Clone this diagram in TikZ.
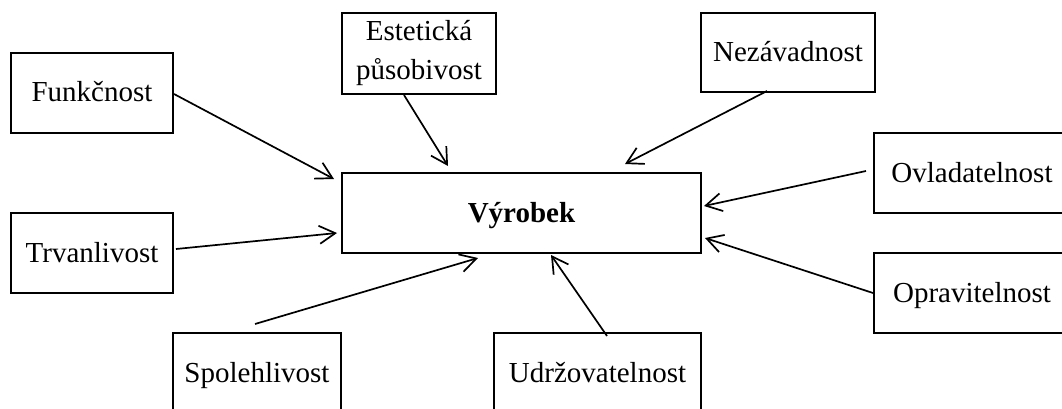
\documentclass[tikz,border=0pt]{standalone}
\usepackage{fontspec}
\setmainfont{Liberation Serif}
\usetikzlibrary{arrows.meta}
\begin{document}
\begin{tikzpicture}[x=1pt,y=-1pt,
  box/.style={draw,line width=2pt,inner sep=0pt,
    font=\fontsize{29}{35}\selectfont},
  single/.style={box,text height=24pt,text depth=6pt},
  link/.style={line width=1.7pt,
    -{Straight Barb[length=16pt,width=18pt,line width=1.7pt]}}]
\useasboundingbox (0,0) rectangle (1062,409);
\clip (0,0) rectangle (1062,409);
% central box
\node[single,minimum width=359pt,minimum height=80pt,font=\fontsize{29}{35}\selectfont\bfseries]
  (vyr) at (521.5,213) {Výrobek};
% surrounding properties
\node[single,minimum width=162pt,minimum height=80pt] (fun) at (92,93) {Funkčnost};
\node[single,minimum width=162pt,minimum height=80pt] (trv) at (92,253) {Trvanlivost};
\node[box,align=center,minimum width=154pt,minimum height=81pt] (est) at (419,53.5)
  {Estetická\\[4pt]působivost};
\node[single,minimum width=174pt,minimum height=79pt] (nez) at (788,52.5) {Nezávadnost};
\node[single,minimum width=196pt,minimum height=80pt] (ovl) at (972,173) {Ovladatelnost};
\node[single,minimum width=196pt,minimum height=80pt] (opr) at (972,293) {Opravitelnost};
\node[single,minimum width=168pt,minimum height=80pt] (spo) at (257,373) {Spolehlivost};
\node[single,minimum width=207pt,minimum height=80pt] (udr) at (597.5,373) {Udržovatelnost};
% influences on the product
\draw[link] ([yshift=-1pt]fun.east) -- ([shift={(-7,7)}]vyr.north west);
\draw[link] ([xshift=-15pt]est.south) -- ([shift={(-73.5,-6)}]vyr.north);
\draw[link] ([shift={(-21,-2)}]nez.south) -- ([shift={(103.5,-8)}]vyr.north);
\draw[link] ([shift={(-7,-2)}]ovl.west) -- ([shift={(2,-7)}]vyr.east);
\draw[link] (opr.west) -- ([shift={(3,25)}]vyr.east);
\draw[link] ([shift={(2,-4)}]trv.east) -- ([shift={(-4,20)}]vyr.west);
\draw[link] ([shift={(-2,-8)}]spo.north) -- ([shift={(-43.5,4)}]vyr.south);
\draw[link] ([shift={(9.5,4)}]udr.north) -- ([shift={(29.5,1)}]vyr.south);
\end{tikzpicture}
\end{document}
